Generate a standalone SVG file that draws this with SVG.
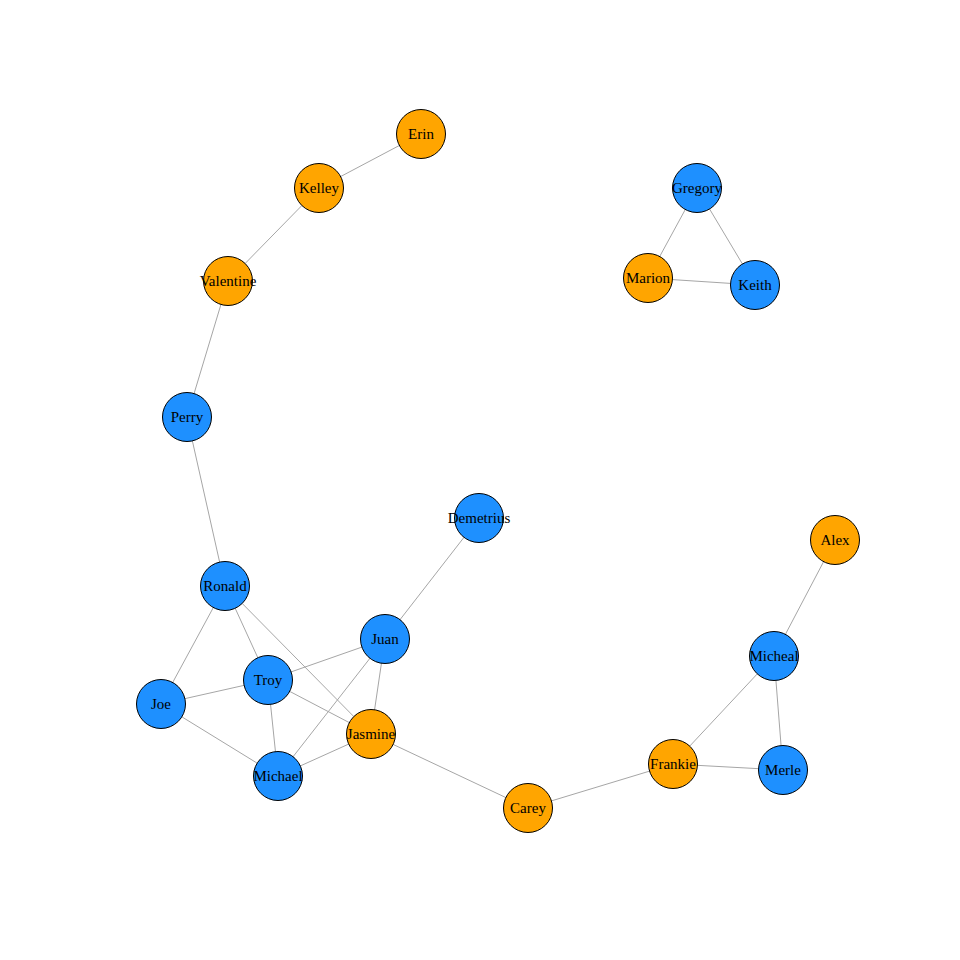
<svg xmlns="http://www.w3.org/2000/svg" width="960" height="960" viewBox="0 0 960 960">
<style>
.e{stroke:#a6a6a6;stroke-width:1;fill:none}
.b{fill:#1e90ff;stroke:#000;stroke-width:1}
.o{fill:#ffa500;stroke:#000;stroke-width:1}
text{font-family:"Liberation Serif","Times New Roman",serif;font-size:15px;text-anchor:middle;dominant-baseline:central;fill:#000}
</style>
<rect width="960" height="960" fill="#fff"/>
<g id="edges">
<line class="e" x1="421" y1="134" x2="319" y2="188"/>
<line class="e" x1="319" y1="188" x2="228" y2="281"/>
<line class="e" x1="228" y1="281" x2="187" y2="417"/>
<line class="e" x1="187" y1="417" x2="225" y2="586"/>
<line class="e" x1="225" y1="586" x2="161" y2="704"/>
<line class="e" x1="225" y1="586" x2="268" y2="680"/>
<line class="e" x1="225" y1="586" x2="371" y2="734"/>
<line class="e" x1="161" y1="704" x2="268" y2="680"/>
<line class="e" x1="161" y1="704" x2="278" y2="776"/>
<line class="e" x1="268" y1="680" x2="385" y2="639"/>
<line class="e" x1="268" y1="680" x2="278" y2="776"/>
<line class="e" x1="268" y1="680" x2="371" y2="734"/>
<line class="e" x1="278" y1="776" x2="371" y2="734"/>
<line class="e" x1="278" y1="776" x2="385" y2="639"/>
<line class="e" x1="385" y1="639" x2="371" y2="734"/>
<line class="e" x1="385" y1="639" x2="479" y2="518"/>
<line class="e" x1="371" y1="734" x2="528" y2="808"/>
<line class="e" x1="528" y1="808" x2="673" y2="764"/>
<line class="e" x1="673" y1="764" x2="774" y2="656"/>
<line class="e" x1="673" y1="764" x2="783" y2="770"/>
<line class="e" x1="774" y1="656" x2="783" y2="770"/>
<line class="e" x1="774" y1="656" x2="835" y2="540"/>
<line class="e" x1="697" y1="188" x2="648" y2="278"/>
<line class="e" x1="697" y1="188" x2="755" y2="285"/>
<line class="e" x1="648" y1="278" x2="755" y2="285"/>
</g>
<g id="Erin"><circle class="o" cx="421" cy="134" r="24.5"/><text x="421" y="134">Erin</text></g>
<g id="Kelley"><circle class="o" cx="319" cy="188" r="24.5"/><text x="319" y="188">Kelley</text></g>
<g id="Valentine"><circle class="o" cx="228" cy="281" r="24.5"/><text x="228" y="281">Valentine</text></g>
<g id="Perry"><circle class="b" cx="187" cy="417" r="24.5"/><text x="187" y="417">Perry</text></g>
<g id="Ronald"><circle class="b" cx="225" cy="586" r="24.5"/><text x="225" y="586">Ronald</text></g>
<g id="Joe"><circle class="b" cx="161" cy="704" r="24.5"/><text x="161" y="704">Joe</text></g>
<g id="Troy"><circle class="b" cx="268" cy="680" r="24.5"/><text x="268" y="680">Troy</text></g>
<g id="Michael"><circle class="b" cx="278" cy="776" r="24.5"/><text x="278" y="776">Michael</text></g>
<g id="Jasmine"><circle class="o" cx="371" cy="734" r="24.5"/><text x="371" y="734">Jasmine</text></g>
<g id="Juan"><circle class="b" cx="385" cy="639" r="24.5"/><text x="385" y="639">Juan</text></g>
<g id="Demetrius"><circle class="b" cx="479" cy="518" r="24.5"/><text x="479" y="518">Demetrius</text></g>
<g id="Carey"><circle class="o" cx="528" cy="808" r="24.5"/><text x="528" y="808">Carey</text></g>
<g id="Frankie"><circle class="o" cx="673" cy="764" r="24.5"/><text x="673" y="764">Frankie</text></g>
<g id="Merle"><circle class="b" cx="783" cy="770" r="24.5"/><text x="783" y="770">Merle</text></g>
<g id="Micheal"><circle class="b" cx="774" cy="656" r="24.5"/><text x="774" y="656">Micheal</text></g>
<g id="Alex"><circle class="o" cx="835" cy="540" r="24.5"/><text x="835" y="540">Alex</text></g>
<g id="Gregory"><circle class="b" cx="697" cy="188" r="24.5"/><text x="697" y="188">Gregory</text></g>
<g id="Marion"><circle class="o" cx="648" cy="278" r="24.5"/><text x="648" y="278">Marion</text></g>
<g id="Keith"><circle class="b" cx="755" cy="285" r="24.5"/><text x="755" y="285">Keith</text></g>
</svg>
